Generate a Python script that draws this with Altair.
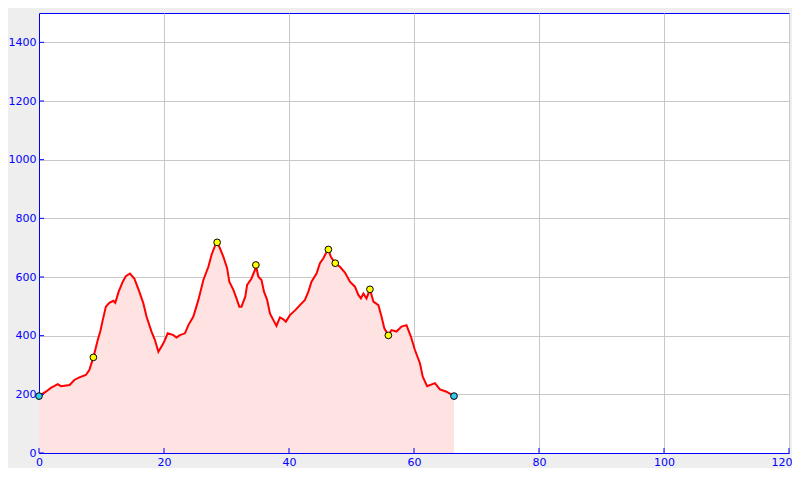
import altair as alt
import pandas as pd

dist = [0, 1.1, 1.9, 3.0, 3.5, 4.9, 5.65, 6.45, 7.5, 8.05, 8.7, 9.4, 9.8, 10.2, 10.7,
        11.25, 11.9, 12.2, 12.75, 13.4, 13.9, 14.55, 15.25, 16.05, 16.7, 17.2, 18.0,
        18.55, 19.1, 19.9, 20.6, 21.5, 22.0, 22.55, 23.35, 23.9, 24.7, 25.5, 26.3,
        27.1, 27.6, 28.15, 28.5, 28.95, 29.5, 30.1, 30.45, 31.1, 31.6, 32.05, 32.4,
        33.0, 33.3, 34.0, 34.55, 34.7, 35.1, 35.6, 36.0, 36.5, 36.95, 37.5, 38.0,
        38.55, 39.1, 39.5, 40.15, 41.0, 41.75, 42.55, 43.1, 43.6, 44.4, 44.95, 45.5,
        45.9, 46.3, 46.7, 47.4, 48.15, 48.95, 49.75, 50.55, 51.1, 51.5, 51.9, 52.4,
        52.95, 53.5, 54.3, 54.8, 55.25, 55.9, 56.4, 57.2, 58.0, 58.8, 59.5, 60.15,
        60.95, 61.4, 62.1, 63.35, 64.15, 65.2, 66.4]
elev = [194, 209, 222, 235, 228, 232, 249, 258, 266, 283, 326, 385, 414, 453, 499,
        512, 519, 512, 550, 584, 603, 612, 595, 550, 510, 465, 414,
        385, 345, 374, 408, 402, 394, 402, 408, 436, 465, 522, 590,
        635, 675, 706, 718, 698, 669, 630, 584, 556, 527, 499, 499,
        533, 573, 595, 624, 641, 601, 590, 550, 522, 476, 453, 433,
        462, 456, 448, 470, 487, 504, 522, 550, 584, 612, 647, 664,
        681, 694, 669, 647, 635, 615, 584, 567, 539, 527, 544, 527,
        558, 516, 504, 465, 425, 401, 419, 414, 431, 436, 397, 351,
        306, 260, 228, 238, 217, 209, 194]

wp_dist = [0, 8.7, 28.5, 34.7, 46.3, 47.4, 52.95, 55.9, 66.4]
wp_elev = [194, 326, 718, 641, 694, 647, 558, 401, 194]
wp_kind = ["end", "via", "via", "via", "via", "via", "via", "via", "end"]

x_ticks = [0, 20, 40, 60, 80, 100, 120]
y_ticks = [0, 200, 400, 600, 800, 1000, 1200, 1400]

profile = pd.DataFrame({"dist": dist, "elev": elev})
wps = pd.DataFrame({"dist": wp_dist, "elev": wp_elev, "kind": wp_kind})
xt = pd.DataFrame({"v": x_ticks, "lo": [0] * len(x_ticks), "hi": [17] * len(x_ticks)})
yt = pd.DataFrame({"v": y_ticks, "lo": [0] * len(y_ticks), "hi": [0.8] * len(y_ticks)})

xs = alt.Scale(domain=[0, 120], nice=False, zero=False)
ys = alt.Scale(domain=[0, 1500], nice=False)

x_axis = alt.Axis(values=x_ticks, title=None, ticks=False, domain=True, format="d",
                  labelPadding=3, grid=True, labelFlush=False, labelOverlap=False,
                  labelAlign=alt.condition("datum.value == 120", alt.value("right"), alt.value("center")),
                  labelOffset=alt.condition("datum.value == 120", alt.value(3), alt.value(0)))
y_axis = alt.Axis(values=y_ticks, title=None, ticks=False, domain=True, format="d",
                  labelPadding=3, grid=True, labelOverlap=False)

area = alt.Chart(profile).mark_area(color="#ffe2e2", opacity=1).encode(
    x=alt.X("dist:Q", scale=xs, axis=x_axis),
    y=alt.Y("elev:Q", scale=ys, axis=y_axis),
)
line = alt.Chart(profile).mark_line(color="#ff0000", strokeWidth=2).encode(
    x=alt.X("dist:Q", scale=xs), y=alt.Y("elev:Q", scale=ys)
)
xtick = alt.Chart(xt).mark_rule(color="blue", strokeWidth=1).encode(
    x=alt.X("v:Q", scale=xs), y=alt.Y("lo:Q", scale=ys), y2="hi:Q"
)
ytick = alt.Chart(yt).mark_rule(color="blue", strokeWidth=1).encode(
    y=alt.Y("v:Q", scale=ys), x=alt.X("lo:Q", scale=xs), x2="hi:Q"
)
points = alt.Chart(wps).mark_circle(size=45, stroke="black", strokeWidth=1, opacity=1).encode(
    x=alt.X("dist:Q", scale=xs), y=alt.Y("elev:Q", scale=ys),
    fill=alt.Fill("kind:N", scale=alt.Scale(domain=["end", "via"], range=["#33ccee", "#ffff00"]),
                  legend=None),
)

chart = alt.layer(area, line, xtick, ytick, points).properties(
    width=750, height=440,
    autosize=alt.AutoSizeParams(type="none"),
    padding={"left": 31, "top": 5, "right": 3, "bottom": 15},
    background="#eeeeee",
).configure_view(
    stroke="blue", strokeWidth=1, fill="white"
).configure_axis(
    gridColor="#c8c8c8", gridWidth=1, labelColor="blue",
    domainColor="blue", domainWidth=1,
    labelFont="DejaVu Sans", labelFontSize=11,
)

chart.save("out.html", embed_options={"renderer": "svg", "actions": False})
